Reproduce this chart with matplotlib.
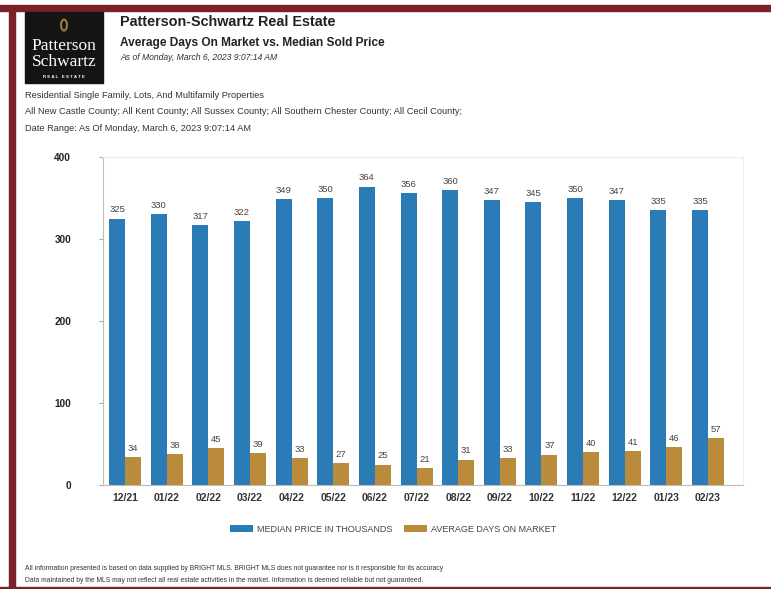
import matplotlib.pyplot as plt
from matplotlib.patches import Rectangle, Ellipse

# chart data
months = ["12/21", "01/22", "02/22", "03/22", "04/22", "05/22", "06/22", "07/22",
          "08/22", "09/22", "10/22", "11/22", "12/22", "01/23", "02/23"]
median_price = [325, 330, 317, 322, 349, 350, 364, 356, 360, 347, 345, 350, 347, 335, 335]
days_on_market = [34, 38, 45, 39, 33, 27, 25, 21, 31, 33, 37, 40, 41, 46, 57]
y_ticks = [0, 100, 200, 300, 400]

BLUE = "#2b7bb6"
GOLD = "#b98b3b"
MAROON = "#7a2227"
W, H = 771, 589

plt.rcParams["font.family"] = ["Liberation Sans", "DejaVu Sans"]

fig = plt.figure(figsize=(W / 100, H / 100), dpi=100)


def fx(px):
    return px / W


def fy(py):
    return 1 - py / H


# maroon frame around the page
fig.patches.append(Rectangle((0, fy(10.5)), 1, 5.5 / H, transform=fig.transFigure,
                             color=MAROON, zorder=0))
fig.patches.append(Rectangle((fx(9), 0), 6 / W, fy(10.5), transform=fig.transFigure,
                             color=MAROON, zorder=0))
fig.patches.append(Rectangle((0, 0), 1, 2 / H, transform=fig.transFigure,
                             color=MAROON, zorder=0))

# logo block
fig.patches.append(Rectangle((fx(25), fy(83)), 78 / W, 71 / H, transform=fig.transFigure,
                             color="#141414", zorder=1))
fig.patches.append(Ellipse((fx(64), fy(25)), 6 / W, 11 / H, transform=fig.transFigure,
                           facecolor="none", edgecolor="#9a7b3c", lw=1.5, zorder=2))
fig.text(fx(64), fy(46), "Patterson", color="white", family="Liberation Serif",
         fontsize=12.5, ha="center", va="center")
fig.text(fx(64), fy(62), "Schwartz", color="white", family="Liberation Serif",
         fontsize=12.5, ha="center", va="center")
fig.text(fx(64), fy(77), "R E A L   E S T A T E", color="white", fontsize=3.2,
         weight="bold", ha="center", va="center")

# header text
fig.text(fx(120), fy(22), "Patterson-Schwartz Real Estate", fontsize=10.4, weight="bold",
         color="#222222", va="center")
fig.text(fx(120), fy(43), "Average Days On Market vs. Median Sold Price", fontsize=8.6,
         weight="bold", color="#222222", va="center")
fig.text(fx(120), fy(57), "As of Monday, March 6, 2023 9:07:14 AM", fontsize=6.2,
         style="italic", color="#333333", va="center")

fig.text(fx(25), fy(95), "Residential Single Family, Lots, And Multifamily Properties",
         fontsize=6.7, color="#333333", va="center")
fig.text(fx(25), fy(111), "All New Castle County; All Kent County; All Sussex County; "
         "All Southern Chester County; All Cecil County;", fontsize=6.7, color="#333333",
         va="center")
fig.text(fx(25), fy(128), "Date Range: As Of Monday, March 6, 2023 9:07:14 AM",
         fontsize=6.7, color="#333333", va="center")

# footer text
fig.text(fx(25), fy(569), "All information presented is based on data supplied by BRIGHT MLS. "
         "BRIGHT MLS does not guarantee nor is it responsible for its accuracy",
         fontsize=4.85, color="#333333", va="center")
fig.text(fx(25), fy(580), "Data maintained by the MLS may not reflect all real estate "
         "activities in the market. Information is deemed reliable but not guaranteed.",
         fontsize=4.85, color="#333333", va="center")

# main chart
ax = fig.add_axes([fx(103), fy(485), (743 - 103) / W, (485 - 157) / H])
x = list(range(len(months)))
bw = 0.385
b1 = ax.bar([i - bw / 2 for i in x], median_price, width=bw, color=BLUE,
            label="MEDIAN PRICE IN THOUSANDS", zorder=2)
b2 = ax.bar([i + bw / 2 for i in x], days_on_market, width=bw, color=GOLD,
            label="AVERAGE DAYS ON MARKET", zorder=2)
ax.bar_label(b1, padding=3, fontsize=6.8, color="#444444")
ax.bar_label(b2, padding=3, fontsize=6.8, color="#444444")

ax.set_xlim(-0.53, 14.84)
ax.set_ylim(0, 400)
ax.set_yticks(y_ticks)
ax.set_xticks(x)
ax.set_xticklabels(months)
ax.tick_params(axis="x", length=0, pad=6, labelsize=7.5, labelcolor="#333333")
ax.tick_params(axis="y", length=3, color="#aaaaaa", pad=20, labelsize=7.2,
               labelcolor="#222222")
for lab in ax.get_xticklabels() + ax.get_yticklabels():
    lab.set_fontweight("bold")

for side in ["top", "right"]:
    ax.spines[side].set_color("#eeeeee")
for side in ["left", "bottom"]:
    ax.spines[side].set_color("#bbbbbb")

ax.legend(loc="center", bbox_to_anchor=(fx(393), fy(529)), bbox_transform=fig.transFigure,
          ncol=2, frameon=False, fontsize=6.5, handlelength=2.6, handleheight=0.7,
          columnspacing=1.3, handletextpad=0.4, labelcolor="#444444")

fig.savefig("out.png", dpi=100, facecolor="white")
